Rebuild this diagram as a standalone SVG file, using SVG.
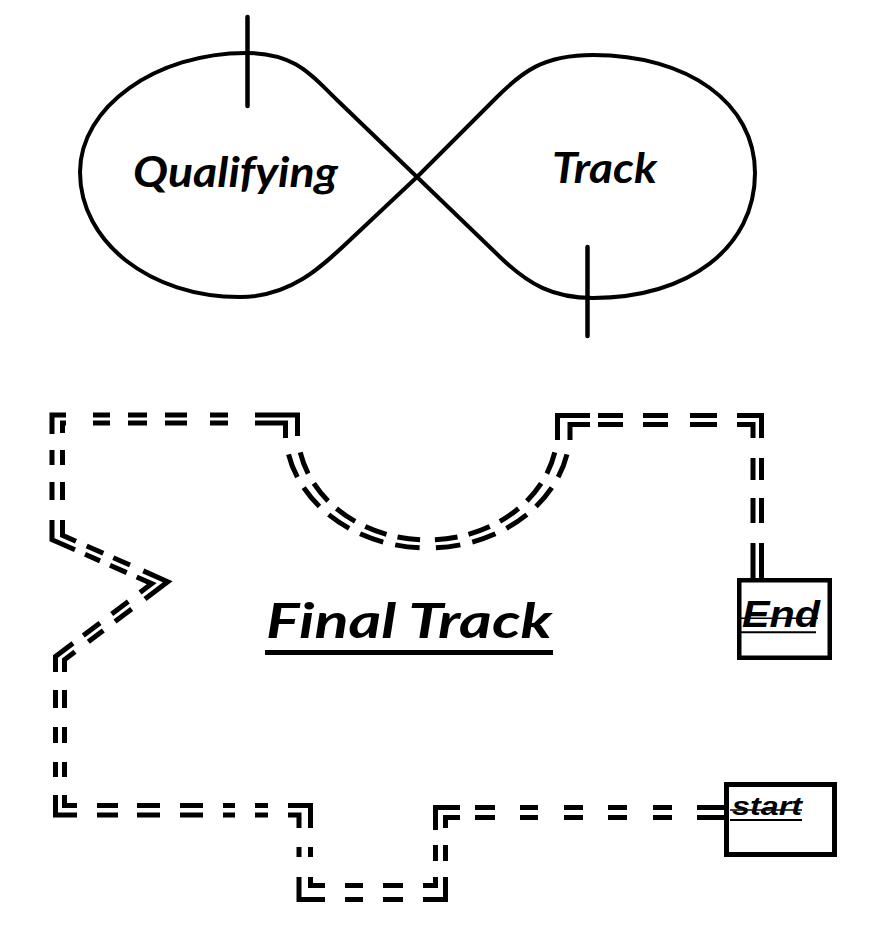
<svg xmlns="http://www.w3.org/2000/svg" width="878" height="930" viewBox="0 0 878 930">
<style>
.bg{fill:#fff}
.loop{fill:none;stroke:#000;stroke-width:4;stroke-linejoin:round}
.tick{stroke:#000;stroke-width:4.5;stroke-linecap:round}
.rail{fill:none;stroke:#000;stroke-width:5;stroke-linecap:butt;stroke-linejoin:miter}
.arc{fill:none;stroke:#000;stroke-width:5;stroke-dasharray:0 6 6 3 6 3 6 3 6 3 6 4 6 3 6 3 6 3 6 3 6 20}
.lbl{font-family:Lato,"Open Sans","Liberation Sans",sans-serif;font-weight:bold;font-style:italic;fill:#000}
.box{fill:#fff;stroke:#000}
.bt{font-family:"Liberation Sans",Arial,sans-serif;font-weight:bold;font-style:italic;fill:#000}
.thin{stroke:#000}
</style>
<rect class="bg" x="0" y="0" width="878" height="930"/>

<g id="qualifying-track">
<path class="loop" d="M417,177 L337,100 C311.8,75.8 296,53 246,53 C156,53 80,107 80,172 C80,242 150,297 240,297 C290,297 320.8,267.6 350,240 L417,177 L500,257 C528.8,284.6 553,298 593,298 C688,298 755,248 755,173 C755,103 688,55 593,55 C543,55 522,72 497,97 Z"/>
<line class="tick" x1="247.5" y1="17" x2="247.5" y2="106"/>
<line class="tick" x1="587.5" y1="247" x2="587.5" y2="336"/>
<text class="lbl" x="133" y="187" font-size="42" textLength="205" lengthAdjust="spacingAndGlyphs">Qualifying</text>
<text class="lbl" x="552" y="183" font-size="42" textLength="105" lengthAdjust="spacingAndGlyphs">Track</text>
</g>

<g id="final-track-title">
<text class="lbl" x="266" y="638" font-size="48" textLength="286" lengthAdjust="spacingAndGlyphs">Final Track</text>
<line x1="265" y1="652.5" x2="553" y2="652.5" stroke="#000" stroke-width="5"/>
</g>

<g id="connectors">
<path class="rail" d="M52,434 V415 H66 M93,415 H110 M128,415 H147 M165,415 H187 M210,415 H228 M255,415 H297.5 V436
M557.5,440 V415.5 H590 M598,415.5 H623 M643,415.5 H668 M690,415.5 H717 M737,415.5 H761.5 V438
M761.5,458 V480 M761.5,498 V523 M761.5,543 V580
M52,450 V465 M52,482 V500 M52,520 V539.7 L75,549.8
M85,554.3 L100,560.9 M110,565.3 L126.7,572.6
M136.7,577 L151.8,583.6 L140,592.6
M128.3,601.5 L111.7,613.9 M100,622.9 L83.3,635.5
M73,643.3 L55.5,656.5 V672
M55.5,690 V708 M55.5,727 V743 M55.5,762 V777
M55.5,795 V815 H77
M97,815 H118 M137,815 H160 M180,815 H203 M223,815 H235 M255,815 H268
M288,815 H299 V828
M299,847 V857
M299,877 V899.5 H325
M345,899.5 H363 M383,899.5 H403
M423,899.5 H445.5 V877
M445.5,861 V845
M445.5,828 V817.5 H460
M475,817.5 H495 M520,817.5 H538 M564,817.5 H583 M608,817.5 H627 M653,817.5 H672 M697,817.5 H726"/>
<path class="rail" d="M62.5,433 V423 H66 M93,423 H110 M128,423 H147 M165,423 H187 M210,423 H228 M255,423 H285.5 V438
M570,440 V424.5 H590 M598,424.5 H623 M643,424.5 H668 M690,424.5 H717 M737,424.5 H753 V438
M753,458 V480 M753,498 V523 M753,543 V580
M62.5,450 V465 M62.5,482 V500 M62.5,520 V535.4 L76,541.3
M86.7,546 L103.3,553.3 M113.3,557.7 L130,565
M143.3,570.9 L167.7,581.7 L145,598.9
M131.7,608.9 L115,621.5 M103.3,630.4 L88.3,641.7
M75,651.8 L64.5,659.7 V672
M64.5,690 V708 M64.5,727 V743 M64.5,762 V777
M64.5,795 V805.5 H77
M97,805.5 H118 M137,805.5 H160 M180,805.5 H203 M223,805.5 H235 M255,805.5 H268
M288,805.5 H310.5 V828
M310.5,847 V857
M310.5,877 V885.5 H325
M345,885.5 H363 M383,885.5 H403
M423,885.5 H435.5 V877
M435.5,861 V845
M435.5,830 V807.5 H460
M475,807.5 H495 M520,807.5 H538 M564,807.5 H583 M608,807.5 H627 M653,807.5 H672 M697,807.5 H726"/>
<path class="arc" pathLength="100" d="M285.5,430 A142.25,118 0 0 0 570,430"/>
<path class="arc" pathLength="100" d="M297.5,430 A130,110 0 0 0 557.5,430"/>
</g>

<g id="end-box">
<rect class="box" x="739.25" y="580.25" width="90.5" height="77.5" stroke-width="4.5"/>
<text class="bt" x="742" y="627" font-size="37" textLength="78" lengthAdjust="spacingAndGlyphs">End</text>
<line class="thin" x1="740" y1="618.3" x2="818" y2="618.3" stroke-width="1.6"/>
<line class="thin" x1="741" y1="632.3" x2="816" y2="632.3" stroke-width="2"/>
</g>

<g id="start-box">
<rect class="box" x="726.5" y="784.5" width="108" height="70" stroke-width="5"/>
<text class="bt" x="732" y="815" font-size="25" textLength="70" lengthAdjust="spacingAndGlyphs">start</text>
<line class="thin" x1="730" y1="810" x2="802" y2="810" stroke-width="1.5"/>
<line class="thin" x1="730" y1="820" x2="802" y2="820" stroke-width="1.8"/>
</g>
</svg>
